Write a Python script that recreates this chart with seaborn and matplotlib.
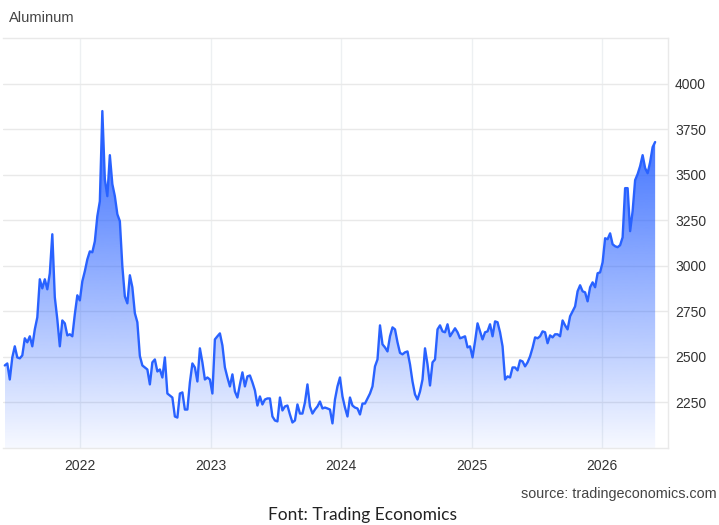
import numpy as np
import pandas as pd
import matplotlib
matplotlib.use("Agg")
import matplotlib.pyplot as plt
import matplotlib.dates as mdates
from matplotlib.colors import LinearSegmentedColormap
import seaborn as sns

# ---- data (weekly aluminum prices, USD/t) ----
start_date = "2021-06-04"
prices = [
    2453, 2464, 2376, 2497, 2558, 2497, 2492, 2508, 2602, 2580,
    2613, 2558, 2651, 2717, 2926, 2876, 2926, 2871, 2959, 3173,
    2827, 2706, 2558, 2700, 2684, 2618, 2624, 2613, 2734, 2838,
    2810, 2915, 2970, 3035, 3079, 3074, 3134, 3272, 3354, 3849,
    3475, 3382, 3607, 3448, 3382, 3283, 3245, 2997, 2832, 2794,
    2948, 2882, 2740, 2690, 2505, 2453, 2442, 2431, 2349, 2470,
    2486, 2420, 2431, 2387, 2497, 2299, 2288, 2277, 2173, 2167,
    2299, 2305, 2211, 2211, 2360, 2464, 2442, 2365, 2547, 2470,
    2376, 2387, 2376, 2299, 2596, 2613, 2629, 2563, 2442, 2387,
    2338, 2404, 2310, 2277, 2349, 2415, 2338, 2393, 2398, 2360,
    2316, 2233, 2283, 2239, 2266, 2272, 2272, 2173, 2151, 2146,
    2277, 2206, 2228, 2233, 2184, 2140, 2151, 2239, 2189, 2189,
    2250, 2349, 2228, 2189, 2211, 2228, 2255, 2217, 2222, 2217,
    2211, 2135, 2266, 2338, 2387, 2283, 2222, 2173, 2277, 2233,
    2222, 2217, 2184, 2244, 2244, 2272, 2299, 2338, 2448, 2486,
    2673, 2569, 2552, 2530, 2613, 2662, 2651, 2580, 2522, 2514,
    2525, 2530, 2459, 2365, 2294, 2266, 2310, 2376, 2547, 2459,
    2343, 2470, 2486, 2651, 2673, 2640, 2635, 2679, 2613, 2635,
    2657, 2635, 2602, 2607, 2613, 2552, 2558, 2497, 2585, 2684,
    2640, 2596, 2635, 2640, 2679, 2613, 2695, 2690, 2635, 2558,
    2376, 2393, 2387, 2442, 2442, 2426, 2481, 2475, 2448, 2470,
    2503, 2550, 2607, 2602, 2613, 2640, 2635, 2575, 2618, 2607,
    2624, 2624, 2613, 2700, 2673, 2651, 2723, 2750, 2777, 2860,
    2893, 2860, 2854, 2805, 2882, 2909, 2882, 2959, 2964, 3019,
    3151, 3146, 3178, 3118, 3107, 3102, 3113, 3156, 3426, 3426,
    3190, 3300, 3470, 3503, 3547, 3607, 3536, 3508, 3569, 3651,
    3679,
]
dates = pd.date_range(start=start_date, periods=len(prices), freq="7D")
df = pd.DataFrame({"date": dates, "price": prices})

y_ticks = [2250, 2500, 2750, 3000, 3250, 3500, 3750, 4000]
x_tick_years = ["2022", "2023", "2024", "2025", "2026"]
title_text = "Aluminum"
source_text = "source: tradingeconomics.com"
caption_text = "Font: Trading Economics"

# ---- style ----
sns.set_theme(style="white")
plt.rcParams["font.family"] = ["Liberation Sans", "DejaVu Sans"]

LINE = "#2962ff"
GRID = "#e9e9e9"
TXT = "#333333"

fig = plt.figure(figsize=(7.19, 5.25), dpi=100)
ax = fig.add_axes([3 / 719, 1 - 448 / 525, 665 / 719, 410 / 525])

ymin, ymax = 2000, 4250
xmin = pd.Timestamp("2021-05-30")
xmax = pd.Timestamp("2026-07-04")

# gradient fill under the curve
xnum = mdates.date2num(df["date"])
cmap = LinearSegmentedColormap.from_list(
    "g", [(41 / 255, 98 / 255, 255 / 255, 0.04), (41 / 255, 98 / 255, 255 / 255, 0.95)]
)
top_val = max(prices)
grad = np.linspace(0, 1, 256).reshape(-1, 1)
im = ax.imshow(grad, aspect="auto", cmap=cmap, origin="lower",
               extent=[xnum[0], xnum[-1], ymin, top_val], zorder=1,
               interpolation="bicubic")
poly = ax.fill_between(df["date"], df["price"], ymin, color="none", lw=0)
path = poly.get_paths()[0]
im.set_clip_path(path, transform=ax.transData)

sns.lineplot(data=df, x="date", y="price", ax=ax, color=LINE, lw=1.7, zorder=3)

ax.set_xlim(xmin, xmax)
ax.set_ylim(ymin, ymax)

# grid
ax.set_yticks(y_ticks)
ax.set_xticks([pd.Timestamp(f"{y}-01-01") for y in x_tick_years])
ax.set_xticklabels(x_tick_years)
ax.grid(True, axis="y", color=GRID, lw=1.0, zorder=0)
ax.grid(True, axis="x", color="#edf0f2", lw=1.0, zorder=0)
ax.set_axisbelow(True)

ax.yaxis.tick_right()
ax.tick_params(axis="y", length=0, pad=5, labelsize=10, labelcolor=TXT)
ax.tick_params(axis="x", length=0, pad=8, labelsize=10, labelcolor=TXT)
ax.set_xlabel("")
ax.set_ylabel("")

ax.spines["left"].set_visible(False)
for s in ["top", "bottom", "right"]:
    ax.spines[s].set_color(GRID)
    ax.spines[s].set_linewidth(1.0)

fig.text(9 / 719, 1 - 18 / 525, title_text, ha="left", va="center",
         fontsize=10.5, color="#444444")
fig.text(717 / 719, 1 - 494 / 525, source_text, ha="right", va="center",
         fontsize=10.4, color="#444444")
fig.text(363 / 719, 1 - 515 / 525, caption_text, ha="center", va="center",
         fontsize=12.5, color="#222222", family=["Lato", "DejaVu Sans"])

fig.savefig("out.png", dpi=100)
